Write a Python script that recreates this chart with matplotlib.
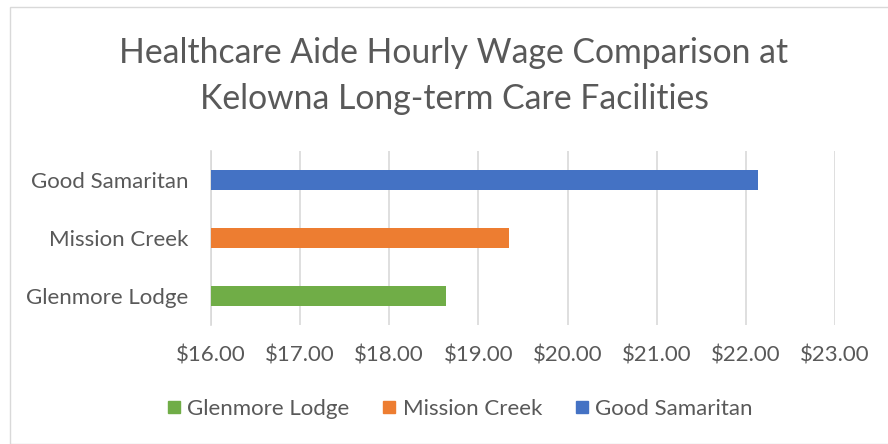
import matplotlib
matplotlib.use("Agg")
import matplotlib.pyplot as plt
from matplotlib.patches import Rectangle
from matplotlib.lines import Line2D

categories = ["Glenmore Lodge", "Mission Creek", "Good Samaritan"]
wages = [18.64, 19.34, 22.14]
colors = ["#70AD47", "#ED7D31", "#4472C4"]
xticks = [16, 17, 18, 19, 20, 21, 22, 23]
xtick_labels = ["$%.2f" % v for v in xticks]
title = "Healthcare Aide Hourly Wage Comparison at\nKelowna Long-term Care Facilities"

plt.rcParams['font.family'] = ['Lato', 'DejaVu Sans']
TXT = "#595959"

W, H = 888, 444
fig = plt.figure(figsize=(W / 100, H / 100), dpi=100)
fig.patch.set_facecolor("white")

# chart area border
fig.patches.append(Rectangle((9.5 / W, 0), 1.0, 1 - 7.5 / H, transform=fig.transFigure,
                             fill=False, edgecolor="#D9D9D9", linewidth=1.0))

left, right, top, bottom = 211, 835, 151, 325
ax = fig.add_axes([left / W, 1 - bottom / H, (right - left) / W, (bottom - top) / H])

ypos = list(range(len(categories)))
ax.barh(ypos, [w - 16 for w in wages], left=16, height=0.35, color=colors, zorder=3)

ax.set_xlim(16, 23)
ax.set_ylim(-0.5, len(categories) - 0.5)
ax.set_xticks(xticks)
ax.set_xticklabels(xtick_labels)
ax.set_yticks(ypos)
ax.set_yticklabels(categories)
ax.tick_params(axis="x", length=0, pad=14.5, labelsize=16, labelcolor=TXT)
ax.tick_params(axis="y", length=0, pad=16.5, labelsize=16, labelcolor=TXT)
ax.grid(axis="x", color="#D9D9D9", linewidth=1.2, zorder=0)
for s in ["top", "right", "bottom"]:
    ax.spines[s].set_visible(False)
ax.spines["left"].set_color("#D9D9D9")
ax.spines["left"].set_linewidth(1.2)

fig.text(454 / W, 1 - 76 / H, title, ha="center", va="center", fontsize=24.3,
         color=TXT, linespacing=1.55)

handles = [Line2D([], [], marker="s", linestyle="none", markersize=8.5,
                  markerfacecolor=c, markeredgecolor=c) for c in colors]
fig.legend(handles, categories, loc="center", bbox_to_anchor=(460 / W, 1 - 409 / H),
           ncol=3, frameon=False, fontsize=16, labelcolor=TXT,
           handlelength=0.6, handletextpad=0.3, columnspacing=1.5)

fig.savefig("out.png", dpi=100)
